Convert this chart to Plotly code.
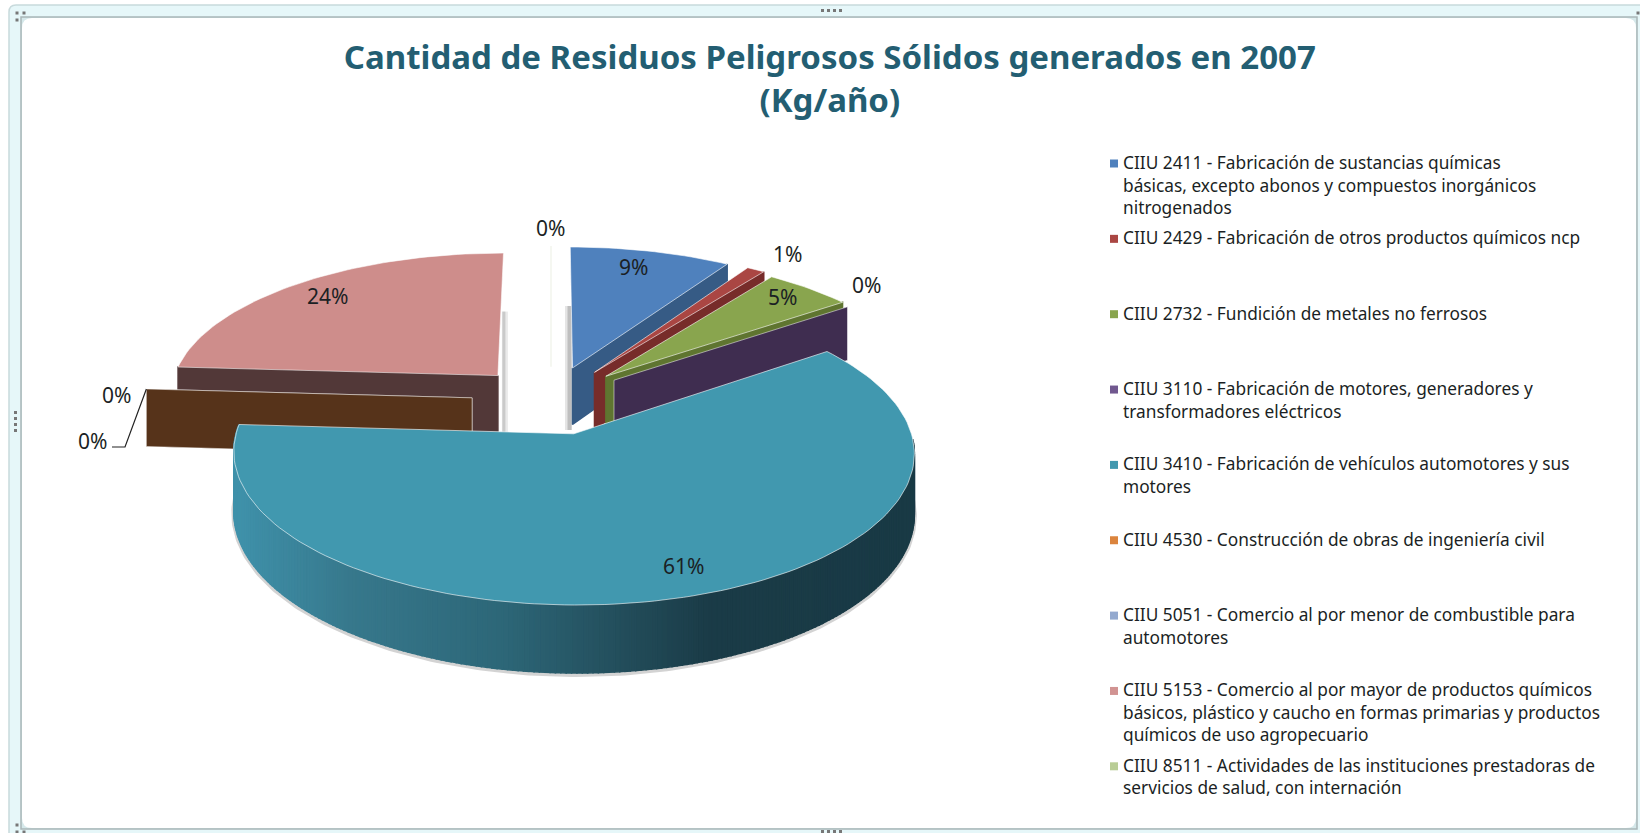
import math
import plotly.graph_objects as go

# ---- data ----
categories = [
    "CIIU 2411 - Fabricación de sustancias químicas<br>básicas, excepto abonos y compuestos inorgánicos<br>nitrogenados",
    "CIIU 2429 - Fabricación de otros productos químicos ncp",
    "CIIU 2732 - Fundición de metales no ferrosos",
    "CIIU 3110 - Fabricación de motores, generadores y<br>transformadores eléctricos",
    "CIIU 3410 - Fabricación de vehículos automotores y sus<br>motores",
    "CIIU 4530 - Construcción de obras de ingeniería civil",
    "CIIU 5051 - Comercio al por menor de combustible para<br>automotores",
    "CIIU 5153 - Comercio al por mayor de productos químicos<br>básicos, plástico y caucho en formas primarias y productos<br>químicos de uso agropecuario",
    "CIIU 8511 - Actividades de las instituciones prestadoras de<br>servicios de salud, con internación",
]
values = [9, 1, 5, 0, 61, 0, 0, 24, 0]
title_text = "Cantidad de Residuos Peligrosos Sólidos generados en 2007<br>(Kg/año)"

# ---- styles ----
top_colors = ["#4F81BD", "#AA4643", "#89A54E", "#71588F", "#4198AF", "#DB843D", "#93A9CF", "#CE8D8B", "#B9CD96"]
wall_colors = ["#365B85", "#772C2A", "#5F7530", "#3F2D50", "#2C6576", "#56331A", "#56331A", "#523838", "#F2F5EC"]
legend_colors = ["#4F81BD", "#AA4643", "#89A54E", "#71588F", "#4198AF", "#DB843D", "#93A9CF", "#D19392", "#B9CD96"]
radius_scale = [1, 1, 0.98, 0.965, 0.995, 1, 1, 1, 1]
label_pos = [(633, 267), (787, 254), (782, 297), (866, 285), (683, 566), (92, 441), (116, 395), (327, 296), (550, 228)]
TEXT = "#1b1f24"

# ---- 3-D projection of the exploded pie ----
CX, CY, A, B, K, PULL, DEPTH = 551, 400, 330, 142.7, 0.12, 0.24, 58


def project(X, Y, z=0.0):
    s = 1 / (1 + K * Y)
    return CX + A * X * s, CY - B * Y * s + DEPTH * z * s


def slice_geometry(start, end):
    mid = math.radians((start + end) / 2)
    return PULL * math.sin(mid), PULL * math.cos(mid)


def rim(off, deg, z=0.0, r=1.0):
    t = math.radians(deg)
    return project(off[0] + r * math.sin(t), off[1] + r * math.cos(t), z)


def arc_degrees(start, end, step=1.5):
    n = max(1, int(abs(end - start) / step))
    return [start + (end - start) * i / n for i in range(n + 1)]


def mix(c1, c2, f):
    a = [int(c1[i:i + 2], 16) for i in (1, 3, 5)]
    b = [int(c2[i:i + 2], 16) for i in (1, 3, 5)]
    return "rgb(%d,%d,%d)" % tuple(round(a[i] + (b[i] - a[i]) * f) for i in range(3))


fig = go.Figure()


def poly(points, color, line=None, width=0):
    xs = [p[0] for p in points] + [points[0][0]]
    ys = [p[1] for p in points] + [points[0][1]]
    fig.add_trace(go.Scatter(
        x=xs, y=ys, mode="lines", fill="toself", fillcolor=color,
        line=dict(color=line or color, width=width if line else 1.5),
        hoverinfo="skip", showlegend=False))


def stroke(points, color, width):
    fig.add_trace(go.Scatter(
        x=[p[0] for p in points], y=[p[1] for p in points], mode="lines",
        line=dict(color=color, width=width), hoverinfo="skip", showlegend=False))


total = sum(values)
angles, acc = [], 0.0
for v in values:
    start = acc / total * 360
    acc += v
    angles.append((start, acc / total * 360))


def radial_wall(i, deg):
    off = slice_geometry(*angles[i])
    r = radius_scale[i]
    tip = project(off[0], off[1])
    tip_b = project(off[0], off[1], 1)
    return [tip, rim(off, deg, 0, r), rim(off, deg, 1, r), tip_b], off


def top_face(i):
    off = slice_geometry(*angles[i])
    pts = [project(off[0], off[1])]
    pts += [rim(off, d, 0, radius_scale[i]) for d in arc_degrees(*angles[i])]
    return pts


# painter's order: far slices first, the large front slice last
order = [8, 7, 5, 6, 0, 1, 2, 3]
for i in order:
    start, end = angles[i]
    if i == 7:  # soft shadow on the right side, then wall of the left radial edge
        off = slice_geometry(start, end)
        x0, y0 = project(off[0], off[1])
        stroke([(x0 + 7, y0 - 64), (x0 + 7, y0 + 57)], "rgba(150,150,150,0.2)", 6)
        stroke([(x0 + 6, y0 - 64), (x0 + 6, y0 + 57)], "rgba(130,130,130,0.3)", 3)
        wall, _ = radial_wall(i, start)
        poly(wall, wall_colors[i])
        poly(top_face(i), top_colors[i], "rgba(255,255,255,0.55)", 1)
    elif i == 8:  # zero slice seen edge-on
        wall, _ = radial_wall(i, end)
        stroke([wall[0], wall[1]], wall_colors[i], 1.5)
    elif values[i]:
        wall, off = radial_wall(i, end)
        if i == 0:
            x0, y0 = project(off[0], off[1])
            stroke([(x0 - 4, y0 - 62), (x0 - 4, y0 + 62)], "rgba(150,150,150,0.25)", 7)
            stroke([(x0 - 3, y0 - 62), (x0 - 3, y0 + 62)], "rgba(120,120,120,0.35)", 4)
        poly(wall, wall_colors[i])
        poly(top_face(i), top_colors[i], "rgba(255,255,255,0.6)", 1)
    else:  # zero slices only show a wall
        wall, _ = radial_wall(i, end)
        poly(wall, wall_colors[i], "rgba(255,255,255,0.5)", 1)

# large front slice
front = 4
off = slice_geometry(*angles[front])
rf = radius_scale[front]
deg = arc_degrees(92, angles[front][1], 0.8)
stops = [(238, "#3F91AA"), (350, "#37788C"), (500, "#2D6778"), (610, "#24505E"), (710, "#1A3B47"), (917, "#193A45")]


def wall_shade(x):
    for (x0, c0), (x1, c1) in zip(stops, stops[1:]):
        if x <= x1:
            return mix(c0, c1, max(0, (x - x0) / (x1 - x0)))
    return stops[-1][1]


stroke([(p[0], p[1] + 1.5) for p in [rim(off, d, 1, rf) for d in deg]], "rgba(110,110,110,0.3)", 5)
for a0, a1 in zip(deg, deg[1:]):
    p0, p1 = rim(off, a0, 0, rf), rim(off, a1, 0, rf)
    poly([p0, p1, rim(off, a1, 1, rf), rim(off, a0, 1, rf)], wall_shade((p0[0] + p1[0]) / 2))
poly(top_face(front), top_colors[front], "rgba(255,255,255,0.6)", 1)

# leader line for the lower 0 % label
brown_outer = rim(slice_geometry(*angles[5]), angles[5][1])
stroke([brown_outer, (125, 447), (112, 447)], "#222222", 1.2)

# ---- text ----
annotations = []
for v, (x, y) in zip(values, label_pos):
    annotations.append(dict(x=x, y=y, xref="x", yref="y", text=f"{v / total:.0%}", showarrow=False,
                            font=dict(family="Noto Sans", size=21, color=TEXT)))

LEG_X, LEG_Y, LEG_PITCH, LINE_PITCH = 1123, 163.5, 75.35, 22.5
leg_y = [LEG_Y + i * LEG_PITCH for i in range(len(categories))]
for cat, y0 in zip(categories, leg_y):
    for j, line in enumerate(cat.split("<br>")):
        annotations.append(dict(x=LEG_X - 2, y=y0 - 1 + j * LINE_PITCH, xref="x", yref="y", text=line, showarrow=False,
                                xanchor="left", font=dict(family="Noto Sans", size=17.3, color=TEXT)))
fig.add_trace(go.Scatter(
    x=[LEG_X - 9] * len(categories), y=leg_y, mode="markers",
    marker=dict(symbol="square", size=8, color=legend_colors),
    hoverinfo="skip", showlegend=False))

# ---- chart frame ----
shapes = [
    dict(type="path", layer="below", xref="x", yref="y",
         path="M 9 12 Q 9 5 16 5 L 1645 5 L 1645 840 L 16 840 Q 9 840 9 833 Z",
         fillcolor="#E6F7F9", line=dict(color="#C8DADC", width=1.5)),
    dict(type="rect", layer="below", xref="x", yref="y", x0=21, y0=17, x1=1637, y1=829,
         fillcolor="#D5E8EA", line=dict(color="#A9B6B8", width=1.5)),
    dict(type="path", layer="below", xref="x", yref="y",
         path="M 22 28 Q 22 18 32 18 L 1626 18 Q 1636 18 1636 28 L 1636 818 Q 1636 828 1626 828 L 32 828 Q 22 828 22 818 Z",
         fillcolor="#FFFFFF", line=dict(width=0)),
]
for cx_, cy_ in [(17, 13), (24, 13), (17, 20), (17, 825), (17, 832), (24, 832), (1638, 13)]:
    shapes.append(dict(type="rect", xref="x", yref="y", x0=cx_ - 1.5, x1=cx_ + 1.5, y0=cy_ - 1.5, y1=cy_ + 1.5,
                       fillcolor="#777777", line=dict(width=0)))
for k in range(4):
    shapes.append(dict(type="rect", xref="x", yref="y", x0=821 + k * 6, x1=824 + k * 6, y0=9, y1=12,
                       fillcolor="#777777", line=dict(width=0)))
    shapes.append(dict(type="rect", xref="x", yref="y", x0=14, x1=17, y0=411 + k * 6, y1=414 + k * 6,
                       fillcolor="#777777", line=dict(width=0)))
    shapes.append(dict(type="rect", xref="x", yref="y", x0=821 + k * 6, x1=824 + k * 6, y0=830, y1=833,
                       fillcolor="#777777", line=dict(width=0)))

fig.update_layout(
    width=1640, height=833, margin=dict(l=0, r=0, t=0, b=0),
    paper_bgcolor="#FFFFFF", plot_bgcolor="rgba(0,0,0,0)", showlegend=False,
    title=dict(text=title_text, x=0.506, xanchor="center", y=0.917, yanchor="top",
               font=dict(family="Noto Sans", size=33, color="#235E72", weight="bold")),
    xaxis=dict(range=[0, 1640], visible=False, fixedrange=True),
    yaxis=dict(range=[833, 0], visible=False, fixedrange=True),
    annotations=annotations, shapes=shapes,
)
fig.write_html("out.html", config={"displayModeBar": False},
               post_script="document.body.style.margin='0';document.body.style.overflow='hidden';")
